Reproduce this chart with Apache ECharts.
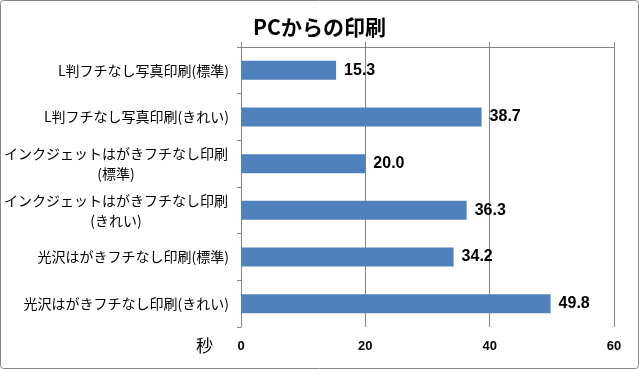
<!DOCTYPE html>
<html><head><meta charset="utf-8">
<script src="https://cdn.jsdelivr.net/npm/echarts@6/dist/echarts.min.js"></script>
<style>html,body{margin:0;padding:0;background:#fff}#c{width:639px;height:369px}</style>
</head><body><div id="c"></div>
<script>
const titleText = 'PCからの印刷';
const categories = [
  'L判フチなし写真印刷(標準)',
  'L判フチなし写真印刷(きれい)',
  'インクジェットはがきフチなし印刷\n(標準)',
  'インクジェットはがきフチなし印刷\n(きれい)',
  '光沢はがきフチなし印刷(標準)',
  '光沢はがきフチなし印刷(きれい)'
];
const values = [15.3, 38.7, 20.0, 36.3, 34.2, 49.8];
const axisMin = 0, axisMax = 60, axisStep = 20;
const unitLabel = '秒';

const chart = echarts.init(document.getElementById('c'), null, {renderer: 'canvas'});
const jp = "'Noto Sans CJK JP', sans-serif";
const gray = '#868686';
chart.setOption({
  animation: false,
  backgroundColor: '#fff',
  title: {
    text: titleText, left: 'center', top: 12,
    textStyle: {fontFamily: jp, fontSize: 21, fontWeight: 'bold', color: '#000'}
  },
  graphic: [{
    type: 'rect', shape: {x: 0.5, y: 0.5, width: 638, height: 368, r: 3},
    style: {fill: 'none', stroke: gray, lineWidth: 1}, silent: true
  }],
  grid: {left: 240, right: 25, top: 47, bottom: 42, containLabel: false},
  xAxis: [{
    type: 'value', position: 'bottom', min: axisMin, max: axisMax, interval: axisStep,
    axisLine: {show: false}, axisTick: {show: false},
    splitLine: {show: true, lineStyle: {color: gray, width: 1}},
    axisLabel: {fontFamily: "'Liberation Sans', sans-serif", fontWeight: 'bold', fontSize: 13, color: '#000', margin: 13},
    name: unitLabel, nameLocation: 'start', nameGap: 28,
    nameTextStyle: {fontFamily: jp, fontSize: 17, color: '#000', verticalAlign: 'top', padding: [10, 0, 0, 0]}
  }, {
    type: 'value', position: 'top', min: axisMin, max: axisMax, interval: axisStep,
    axisLine: {show: true, lineStyle: {color: gray, width: 1}},
    axisTick: {show: true, length: 5, lineStyle: {color: gray}},
    splitLine: {show: false}, axisLabel: {show: false}
  }],
  yAxis: {
    type: 'category', data: categories, inverse: true,
    axisLine: {show: true, lineStyle: {color: gray, width: 1}},
    axisTick: {show: true, length: 4, lineStyle: {color: gray}},
    axisLabel: {
      fontFamily: jp, fontSize: 14, color: '#000', margin: 12, lineHeight: 20,
      formatter: function (v) {
        if (v.indexOf('\n') < 0) return v;
        return v.split('\n').map(s => '{c|' + s + '}').join('\n');
      },
      rich: {c: {width: 226, align: 'center', fontFamily: jp, fontSize: 14, color: '#000', lineHeight: 20}}
    }
  },
  series: [{
    type: 'bar', data: values, xAxisIndex: 0, barWidth: 19,
    itemStyle: {color: '#4F81BD'},
    label: {
      show: true, position: 'right', distance: 8,
      formatter: p => p.value.toFixed(1),
      fontFamily: "'Liberation Sans', sans-serif", fontWeight: 'bold', fontSize: 16, color: '#000'
    }
  }]
});
</script></body></html>
